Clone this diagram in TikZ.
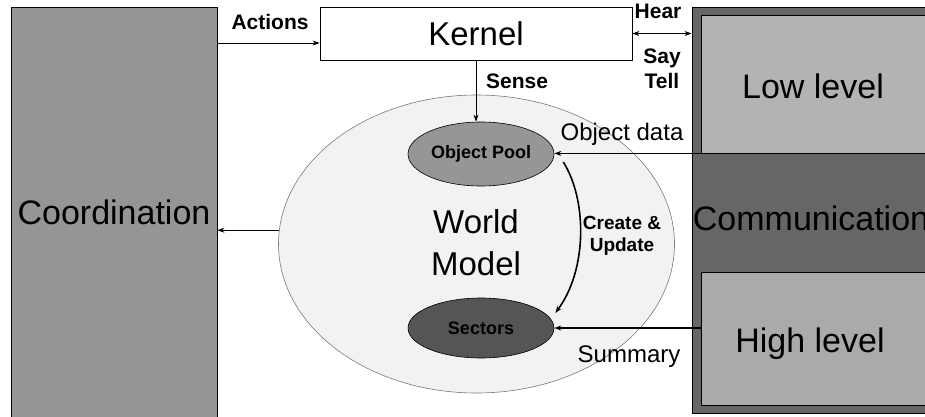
\documentclass[tikz,border=0pt]{standalone}
\usepackage{fontspec}
\setmainfont{Liberation Sans}
\usetikzlibrary{arrows.meta, positioning, calc, shapes.geometric}

\definecolor{coordgray}{HTML}{959595}
\definecolor{commgray}{HTML}{666666}
\definecolor{lowgray}{HTML}{B3B3B3}
\definecolor{highgray}{HTML}{AAAAAA}
\definecolor{worldfill}{HTML}{F2F2F2}
\definecolor{worldline}{HTML}{7A7A7A}
\definecolor{poolgray}{HTML}{969696}
\definecolor{sectgray}{HTML}{555555}

\begin{document}
\begin{tikzpicture}[x=1pt, y=-1pt, >={Stealth[length=7pt,width=5pt]}, line width=0.9pt,
  box/.style={draw, inner sep=0pt, line width=0.8pt},
  blob/.style={draw, ellipse, inner sep=0pt, line width=0.6pt},
  bigtxt/.style={font=\fontsize{34}{40}\selectfont, anchor=base, inner sep=0pt},
  lbl/.style={font=\bfseries\fontsize{21}{25}\selectfont, anchor=base, inner sep=0pt},
  lblreg/.style={font=\fontsize{24}{28}\selectfont, anchor=base, inner sep=0pt}]
  \useasboundingbox (0,0) rectangle (925,416);
  \clip (0,0) rectangle (925,416);

  % Side blocks
  \node[box, fill=coordgray, minimum width=206, minimum height=411,
        font=\fontsize{34}{40}\selectfont] (coord) at (114,212.5) {Coordination};
  \node[box, fill=commgray, minimum width=248, minimum height=406] (comm) at (816,210) {};
  \node[box, fill=lowgray, minimum width=239, minimum height=138] (low) at (820.5,84) {};
  \node[box, fill=highgray, minimum width=239, minimum height=133] (high) at (820.5,338.5) {};

  % Kernel and world model
  \node[box, fill=white, minimum width=312, minimum height=53,
        font=\fontsize{33}{38}\selectfont] (kernel) at (476,33.5) {Kernel};
  \node[blob, fill=worldfill, draw=worldline, minimum width=396, minimum height=298] (world) at (476.5,244) {};
  \node[blob, fill=poolgray, minimum width=146, minimum height=64,
        font=\bfseries\fontsize{18}{21}\selectfont] (pool) at (481,154) {Object Pool};
  \node[blob, fill=sectgray, minimum width=146, minimum height=60,
        font=\bfseries\fontsize{18}{21}\selectfont] (sectors) at (481,328) {Sectors};

  % Connectors
  \draw[->] (coord.east |- 0,43) -- (kernel.west |- 0,43);
  \draw[<->] (kernel.east) -- (kernel.east -| comm.west);
  \draw[->] (kernel.south) -- (kernel.south |- pool.north);
  \draw[->] (low.south west) -- (low.south west -| pool.east);
  \draw[->, line width=1.8pt] (sectors.east -| high.west) -- (sectors.east);
  \draw[->] (world.176) -- (world.176 -| coord.east);
  \draw[->, line width=1.6pt] ([shift={(9,8)}]pool.east) .. controls +(24,38) and +(32,-43) .. ([shift={(1,-15)}]sectors.east);

  % Labels
  \node[lbl] (actions) at (270,29) {Actions};
  \node[lbl] (hear) at (658,18) {Hear};
  \node[lbl] (say) at (662,63) {Say};
  \node[lbl] (tell) at (662,88) {Tell};
  \node[lbl] (sense) at (517,88) {Sense};
  \node[lblreg] (objdata) at (622,140) {Object data};
  \node[lbl, font=\bfseries\fontsize{19}{22}\selectfont] (create) at (622,229) {Create \&};
  \node[lbl, font=\bfseries\fontsize{19}{22}\selectfont] (update) at (622,251) {Update};
  \node[lblreg] (summary) at (629,362) {Summary};
  \node[bigtxt, font=\fontsize{33}{40}\selectfont] (worldtxt) at (476,233) {World};
  \node[bigtxt, font=\fontsize{33}{40}\selectfont] (modeltxt) at (476,275) {Model};
  \node[bigtxt] (commtxt) at (811,230) {Communication};
  \node[bigtxt] (lowtxt) at (813,98) {Low level};
  \node[bigtxt] (hightxt) at (810,352) {High level};
\end{tikzpicture}
\end{document}
